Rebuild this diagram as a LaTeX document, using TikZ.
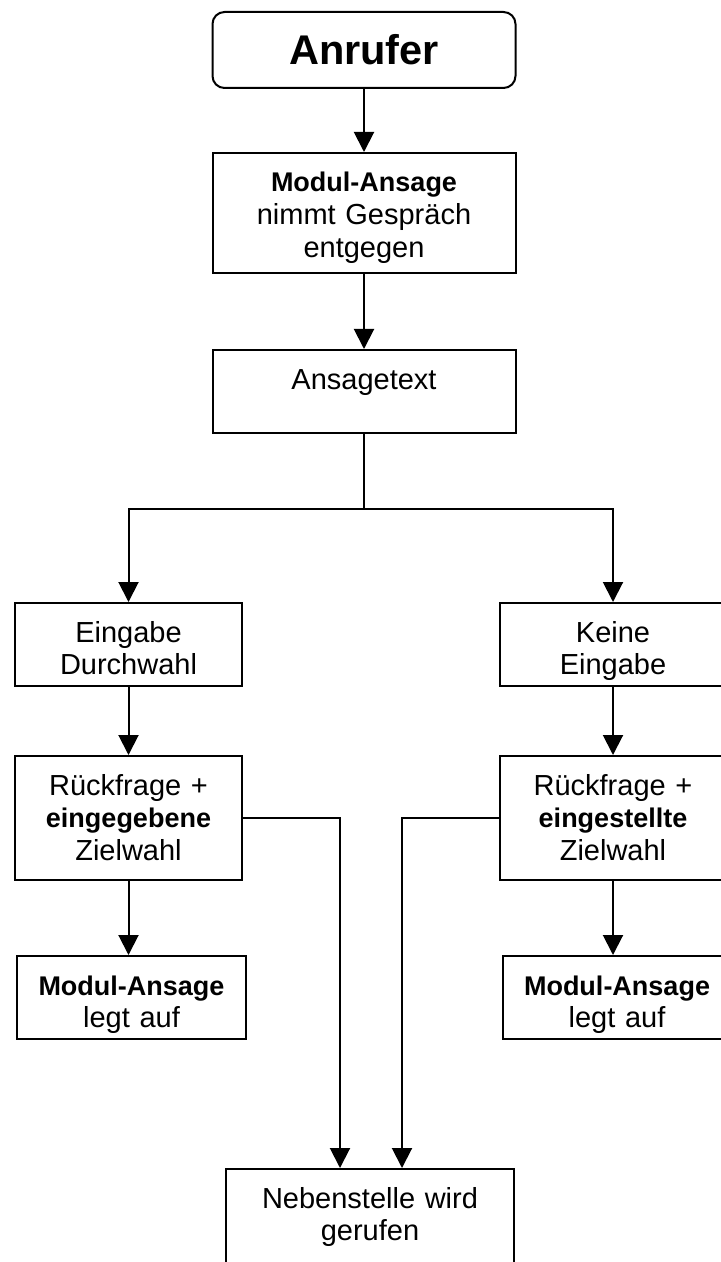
\documentclass[tikz,border=0pt]{standalone}
\usepackage{fontspec}
\setmainfont{Liberation Sans}
\usepackage{tikz}
\usetikzlibrary{positioning}
\usetikzlibrary{arrows.meta}
\usetikzlibrary{calc}

\newcommand{\boxfont}{\fontsize{14.5}{16.4}\selectfont}
\newcommand{\boldword}[1]{{\fontsize{13.5}{16.4}\selectfont\bfseries #1}}

\begin{document}
\begin{tikzpicture}[x=0.5pt,y=-0.5pt]
\tikzstyle{box}=[draw, line width=1pt, inner sep=0pt, align=center, font=\boxfont, text height=19.5pt, text depth=22pt]
\tikzstyle{wide}=[box, text width=151.5pt]
\tikzstyle{narrow}=[box, text width=113.5pt]
\tikzstyle{flow}=[line width=1pt, -{Triangle[length=10pt,width=10pt]}]
\useasboundingbox (0,0) rectangle (720,1262);
\node (anrufer) [wide, rounded corners=6pt, anchor=north, text height=26.5pt, text depth=11.5pt, font={\fontsize{20.75}{24}\selectfont\bfseries}] at (364,11) {Anrufer};
\node (annahme) [wide, below=31.5pt of anrufer, text depth=40.5pt] {\boldword{Modul-Ansage}\\ nimmt Gespräch\\ entgegen};
\node (ansagetext) [wide, below=37.5pt of annahme] {Ansagetext};
\coordinate (fork) at ($(ansagetext.south)+(0,75)$);
\node (eingabe) [narrow, anchor=north] at (128.5,602) {Eingabe\\ Durchwahl};
\node (keine) [narrow, anchor=north] at (613,602) {Keine\\ Eingabe};
\node (rueckL) [narrow, below=34pt of eingabe, text depth=42.5pt] {Rückfrage +\\ \boldword{eingegebene}\\ Zielwahl};
\node (rueckR) [narrow, below=34pt of keine, text depth=42.5pt] {Rückfrage +\\ \boldword{eingestellte}\\ Zielwahl};
\node (auflegenL) [narrow, text width=114.5pt, below=37pt of rueckL, xshift=1.5pt] {\boldword{Modul-Ansage}\\ legt auf};
\node (auflegenR) [narrow, text width=114.5pt, below=37pt of rueckR, xshift=2pt] {\boldword{Modul-Ansage}\\ legt auf};
\node (nebenstelle) [box, text width=144pt, text depth=30.5pt, anchor=north] at (370,1168) {Nebenstelle wird\\ gerufen};
\draw[flow] (anrufer) -- (annahme);
\draw[flow] (annahme) -- (ansagetext);
\draw[line width=1pt] (ansagetext.south) -- (fork);
\draw[flow] (fork) -| (eingabe.north);
\draw[flow] (fork) -| (keine.north);
\draw[flow] (eingabe) -- (rueckL);
\draw[flow] (keine) -- (rueckR);
\draw[flow] (rueckL.south) -- (rueckL.south |- auflegenL.north);
\draw[flow] (rueckR.south) -- (rueckR.south |- auflegenR.north);
\draw[flow] (rueckL.east) -| ([xshift=-15pt]nebenstelle.north);
\draw[flow] (rueckR.west) -| ([xshift=16pt]nebenstelle.north);
\end{tikzpicture}
\end{document}
